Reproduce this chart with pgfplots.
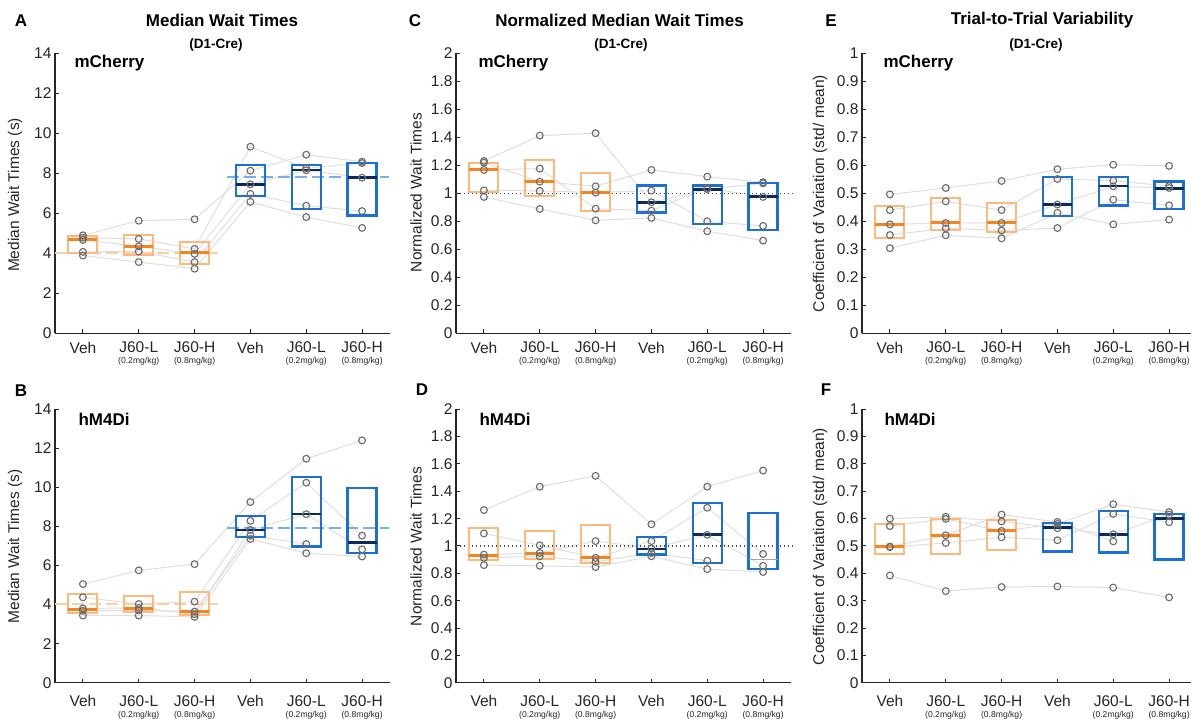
\documentclass[border=0pt]{standalone}
\usepackage{fontspec}
\setmainfont{Liberation Sans}
\usepackage{pgfplots}
\pgfplotsset{compat=1.18}
\usepackage{pgfplotstable}
\usepgfplotslibrary{statistics}

\definecolor{oboxc}{HTML}{FDB87C}
\definecolor{omedc}{HTML}{F5861F}
\definecolor{bboxc}{HTML}{1C6FD4}
\definecolor{bmedc}{HTML}{0B2A55}
\definecolor{odash}{HTML}{FDCFA6}
\definecolor{bdash}{HTML}{7AAEEB}
\definecolor{sline}{HTML}{DEDEDE}
\definecolor{circ}{HTML}{6E6E6E}
\definecolor{axc}{HTML}{262626}

\newcommand{\tickfont}{\fontsize{15.5}{15}\selectfont}
\newcommand{\subf}{\fontsize{8.6}{10}\selectfont}
\newcommand{\labfont}{\fontsize{15.5}{18}\selectfont}

\pgfplotstableread{
x s1 s2 s3 s4 s5
1 4.90 4.78 4.67 4.07 3.89
2 5.63 4.72 4.35 4.09 3.56
3 5.70 4.22 3.97 3.56 3.23
4 8.13 9.33 7.45 6.97 6.57
5 8.93 8.25 8.15 6.38 5.81
6 8.58 8.51 7.78 6.11 5.27
}\tA
\pgfplotstableread{
x s1 s2 s3 s4 s5
1 5.05 4.37 3.80 3.68 3.44
2 5.75 4.03 3.83 3.71 3.44
3 6.07 4.15 3.51 3.64 3.37
4 9.25 8.29 7.83 7.53 7.36
5 11.47 10.24 8.63 7.10 6.63
6 12.41 7.53 6.83 nan 6.46
}\tB
\pgfplotstableread{
x s1 s2 s3 s4 s5
1 1.231 1.219 1.167 1.021 0.974
2 1.412 1.083 1.176 1.017 0.888
3 1.429 1.050 0.890 1.005 0.807
4 0.936 1.167 0.876 1.019 0.824
5 1.029 1.119 1.038 0.800 0.729
6 1.071 1.079 0.974 0.767 0.662
}\tC
\pgfplotstableread{
x s1 s2 s3 s4 s5
1 1.263 1.092 0.937 0.913 0.860
2 1.434 1.005 0.949 0.925 0.855
3 1.513 0.913 1.036 0.884 0.846
4 1.159 1.036 0.983 0.949 0.925
5 1.434 1.280 1.082 0.892 0.831
6 1.552 0.942 0.855 nan 0.810
}\tD
\pgfplotstableread{
x s1 s2 s3 s4 s5
1 0.496 0.440 0.389 0.351 0.304
2 0.519 0.471 0.394 0.375 0.350
3 0.544 0.440 0.394 0.367 0.339
4 0.586 0.551 0.460 0.376 0.430
5 0.602 0.545 0.525 0.477 0.389
6 0.598 0.526 0.519 0.457 0.406
}\tE
\pgfplotstableread{
x s1 s2 s3 s4 s5
1 0.600 0.573 0.498 0.496 0.392
2 0.607 0.599 0.539 0.511 0.335
3 0.590 0.555 0.615 0.532 0.350
4 0.565 0.581 0.588 0.521 0.352
5 0.543 0.653 0.517 0.617 0.348
6 0.615 0.624 nan 0.587 0.312
}\tF

\newcommand{\subj}[1]{%
\addplot[sline, line width=1pt, mark=none] table[x=x,y=s1]{#1};
\addplot[sline, line width=1pt, mark=none] table[x=x,y=s2]{#1};
\addplot[sline, line width=1pt, mark=none] table[x=x,y=s3]{#1};
\addplot[sline, line width=1pt, mark=none] table[x=x,y=s4]{#1};
\addplot[sline, line width=1pt, mark=none] table[x=x,y=s5]{#1};
}
\pgfplotsset{circmark/.style={only marks, mark=o, mark size=3.4pt, mark options={draw=circ, line width=1.15pt}}}
\newcommand{\subjmarks}[1]{%
\addplot[circmark] table[x=x,y=s1]{#1};
\addplot[circmark] table[x=x,y=s2]{#1};
\addplot[circmark] table[x=x,y=s3]{#1};
\addplot[circmark] table[x=x,y=s4]{#1};
\addplot[circmark] table[x=x,y=s5]{#1};
}
\newcommand{\obx}[4]{%
\addplot[draw=oboxc, line width=2pt, boxplot/draw direction=y, boxplot/every median/.style={draw=omedc, line width=3pt}, boxplot/every whisker/.style={draw=none},
 boxplot prepared={draw position=#1, lower whisker=#2, lower quartile=#2, median=#3, upper quartile=#4, upper whisker=#4, box extend=0.52}] coordinates {};}
\newcommand{\bbx}[4]{%
\addplot[draw=bboxc, line width=2.3pt, boxplot/draw direction=y, boxplot/every median/.style={draw=bmedc, line width=2.6pt}, boxplot/every whisker/.style={draw=none},
 boxplot prepared={draw position=#1, lower whisker=#2, lower quartile=#2, median=#3, upper quartile=#4, upper whisker=#4, box extend=0.52}] coordinates {};}
\newcommand{\bbxg}[4]{%
\addplot[draw=bboxc, line width=2.3pt, boxplot/draw direction=y, boxplot/every median/.style={draw=gray!70, line width=1.2pt}, boxplot/every whisker/.style={draw=none},
 boxplot prepared={draw position=#1, lower whisker=#2, lower quartile=#2, median=#3, upper quartile=#4, upper whisker=#4, box extend=0.52}] coordinates {};}

\pgfplotsset{panel/.style={
 scale only axis, width=335pt, anchor=south west,
 xmin=0.5, xmax=6.5,
 axis x line*=bottom, axis y line*=left,
 axis line style={axc, line width=1.3pt},
 tick style={axc, line width=1pt}, major tick length=4pt, tick align=inside,
 xtick={1,2,3,4,5,6},
 xticklabels={Veh,{J60-L\\[-4pt]{\subf (0.2mg/kg)}},{J60-H\\[-4pt]{\subf (0.8mg/kg)}},Veh,{J60-L\\[-4pt]{\subf (0.2mg/kg)}},{J60-H\\[-4pt]{\subf (0.8mg/kg)}}},
 xticklabel style={align=center, font=\tickfont, text=axc},
 yticklabel style={font=\tickfont, text=axc},
 /pgf/number format/assume math mode=true,
 clip=false,
}, toprow/.style={height=280pt, xticklabel style={yshift=-5pt}},
 botrow/.style={height=273.4pt, xticklabel style={yshift=-9pt}}}

\begin{document}
\begin{tikzpicture}
\useasboundingbox (0,0) rectangle (1191pt,719pt);

% A
\begin{axis}[panel, toprow, at={(55pt,385.7pt)}, ymin=0, ymax=14, ytick={0,2,4,6,8,10,12,14}]
\subj{\tA}
\addplot[odash, line width=1.6pt, dash pattern=on 12pt off 5pt] coordinates {(0.5,4.0) (3.42,4.0)};
\addplot[bdash, line width=1.6pt, dash pattern=on 12pt off 5pt] coordinates {(3.58,7.8) (6.48,7.8)};
\obx{1}{4.02}{4.70}{4.85}
\obx{2}{3.91}{4.34}{4.93}
\obx{3}{3.48}{4.02}{4.55}
\bbx{4}{6.87}{7.45}{8.43}
\bbx{5}{6.23}{8.17}{8.43}
\bbx{6}{5.89}{7.80}{8.51}
\subjmarks{\tA}
\end{axis}

% B
\begin{axis}[panel, botrow, at={(55pt,36.3pt)}, ymin=0, ymax=14, ytick={0,2,4,6,8,10,12,14}]
\subj{\tB}
\addplot[odash, line width=1.6pt, dash pattern=on 12pt off 5pt] coordinates {(0.5,4.02) (3.42,4.02)};
\addplot[bdash, line width=1.6pt, dash pattern=on 12pt off 5pt] coordinates {(3.58,7.93) (6.48,7.93)};
\obx{1}{3.58}{3.76}{4.53}
\obx{2}{3.64}{3.80}{4.44}
\obx{3}{3.47}{3.64}{4.63}
\bbx{4}{7.47}{7.81}{8.54}
\bbx{5}{6.98}{8.64}{10.53}
\bbx{6}{6.64}{7.19}{9.97}
\subjmarks{\tB}
\end{axis}

% C
\begin{axis}[panel, toprow, at={(456pt,385.7pt)}, ymin=0, ymax=2, ytick={0,0.2,0.4,0.6,0.8,1,1.2,1.4,1.6,1.8,2}]
\subj{\tC}
\addplot[axc!85, line width=1.3pt, dash pattern=on 1.3pt off 2.7pt] coordinates {(0.5,1) (6.55,1)};
\obx{1}{1.007}{1.167}{1.217}
\obx{2}{0.983}{1.083}{1.236}
\obx{3}{0.871}{1.005}{1.143}
\bbx{4}{0.862}{0.936}{1.055}
\bbx{5}{0.781}{1.026}{1.055}
\bbx{6}{0.740}{0.976}{1.071}
\subjmarks{\tC}
\end{axis}

% D
\begin{axis}[panel, botrow, at={(456pt,36.3pt)}, ymin=0, ymax=2, ytick={0,0.2,0.4,0.6,0.8,1,1.2,1.4,1.6,1.8,2}]
\subj{\tD}
\addplot[axc!85, line width=1.3pt, dash pattern=on 1.3pt off 2.7pt] coordinates {(0.5,1) (6.55,1)};
\obx{1}{0.896}{0.933}{1.133}
\obx{2}{0.906}{0.942}{1.111}
\obx{3}{0.875}{0.913}{1.154}
\bbx{4}{0.937}{0.978}{1.065}
\bbx{5}{0.875}{1.082}{1.316}
\bbxg{6}{0.831}{0.899}{1.243}
\subjmarks{\tD}
\end{axis}

% E
\begin{axis}[panel, toprow, at={(862pt,385.7pt)}, ymin=0, ymax=1, ytick={0,0.1,0.2,0.3,0.4,0.5,0.6,0.7,0.8,0.9,1}]
\subj{\tE}
\obx{1}{0.339}{0.389}{0.455}
\obx{2}{0.368}{0.394}{0.482}
\obx{3}{0.361}{0.394}{0.467}
\bbx{4}{0.418}{0.460}{0.558}
\bbx{5}{0.456}{0.526}{0.558}
\bbx{6}{0.443}{0.517}{0.542}
\subjmarks{\tE}
\end{axis}

% F
\begin{axis}[panel, botrow, at={(862pt,36.3pt)}, ymin=0, ymax=1, ytick={0,0.1,0.2,0.3,0.4,0.5,0.6,0.7,0.8,0.9,1}]
\subj{\tF}
\obx{1}{0.472}{0.498}{0.581}
\obx{2}{0.469}{0.539}{0.598}
\obx{3}{0.486}{0.555}{0.596}
\bbx{4}{0.480}{0.567}{0.583}
\bbx{5}{0.476}{0.542}{0.627}
\bbx{6}{0.451}{0.601}{0.617}
\subjmarks{\tF}
\end{axis}

% panel letters
\begin{scope}[every node/.style={font=\fontsize{17}{20}\selectfont\bfseries}]
\node at (21pt,698.5pt) {A};
\node at (415pt,698.5pt) {C};
\node at (831pt,698.5pt) {E};
\node at (21pt,328pt) {B};
\node at (422pt,329.5pt) {D};
\node at (826pt,329.5pt) {F};
\node at (222pt,698.5pt) {Median Wait Times};
\node at (619.5pt,698.5pt) {Normalized Median Wait Times};
\node at (1042pt,698.5pt) {Trial-to-Trial Variability};
\node[anchor=base west] at (71pt,651.5pt) {mCherry};
\node[anchor=base west] at (475pt,651.5pt) {mCherry};
\node[anchor=base west] at (880pt,651.5pt) {mCherry};
\node[anchor=base west] at (75pt,293.5pt) {hM4Di};
\node[anchor=base west] at (476pt,293.5pt) {hM4Di};
\node[anchor=base west] at (881pt,293.5pt) {hM4Di};
\end{scope}
\begin{scope}[every node/.style={font=\fontsize{13.5}{16}\selectfont\bfseries}]
\node at (216pt,674pt) {(D1-Cre)};
\node at (621pt,674pt) {(D1-Cre)};
\node at (1036pt,674pt) {(D1-Cre)};
\end{scope}
\begin{scope}[every node/.style={font=\labfont, text=axc, rotate=90}]
\node at (15pt,524pt) {Median Wait Times (s)};
\node at (15pt,172.5pt) {Median Wait Times (s)};
\node at (416pt,526.5pt) {Normalized Wait Times};
\node at (416pt,172.5pt) {Normalized Wait Times};
\node at (820pt,525.5pt) {Coefficient of Variation (std/ mean)};
\node at (820pt,172.5pt) {Coefficient of Variation (std/ mean)};
\end{scope}
\end{tikzpicture}
\end{document}
